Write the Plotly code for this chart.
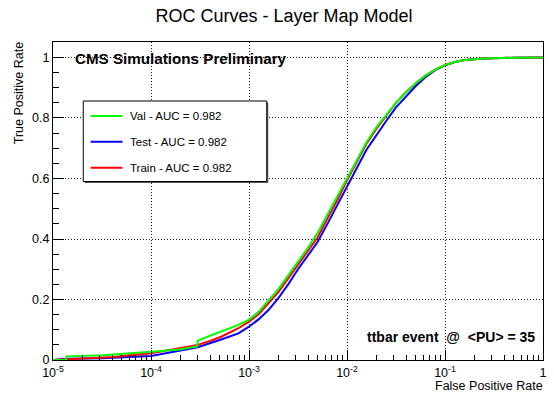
import plotly.graph_objects as go

# ---------------- data ----------------
fpr_val = [1e-5, 1.36e-5, 1.38e-5, 3.2e-5, 1e-4, 1.95e-4, 2.95e-4, 3.0e-4, 4.0e-4, 5.2e-4,
           7.8e-4, 1e-3, 1.26e-3, 1.58e-3, 2.0e-3, 2.51e-3, 3.16e-3, 3.98e-3, 5.01e-3,
           6.31e-3, 7.94e-3, 1e-2, 1.26e-2, 1.58e-2, 2.0e-2, 2.51e-2, 3.16e-2, 3.98e-2,
           5.01e-2, 6.31e-2, 7.94e-2, 0.1, 0.126, 0.158, 0.251, 0.501, 1.0]
tpr_val = [0.0, 0.0, 0.012, 0.016, 0.027, 0.035, 0.045, 0.064, 0.080, 0.094,
           0.116, 0.133, 0.160, 0.197, 0.235, 0.280, 0.325, 0.370, 0.420,
           0.480, 0.540, 0.605, 0.665, 0.720, 0.770, 0.810, 0.850, 0.885,
           0.915, 0.940, 0.960, 0.975, 0.985, 0.992, 0.997, 0.999, 1.0]

fpr_test = [1e-5, 1.38e-5, 3.2e-5, 1e-4, 3.0e-4, 4.0e-4, 5.2e-4, 7.8e-4, 1e-3, 1.26e-3,
            1.58e-3, 2.0e-3, 2.51e-3, 3.16e-3, 3.98e-3, 5.01e-3, 6.31e-3, 7.94e-3, 1e-2,
            1.26e-2, 1.58e-2, 2.0e-2, 2.51e-2, 3.16e-2, 3.98e-2, 5.01e-2, 6.31e-2,
            7.94e-2, 0.1, 0.126, 0.158, 0.251, 0.501, 1.0]
tpr_test = [0.0, 0.004, 0.006, 0.013, 0.042, 0.055, 0.068, 0.088, 0.110, 0.135,
            0.165, 0.205, 0.250, 0.300, 0.345, 0.390, 0.450, 0.510, 0.575,
            0.635, 0.695, 0.745, 0.790, 0.835, 0.870, 0.905, 0.935,
            0.958, 0.974, 0.985, 0.992, 0.997, 0.999, 1.0]

fpr_train = [1e-5, 1.6e-5, 4.1e-5, 1e-4, 3.0e-4, 4.0e-4, 5.2e-4, 7.8e-4, 1e-3, 1.26e-3,
             1.58e-3, 2.0e-3, 2.51e-3, 3.16e-3, 3.98e-3, 5.01e-3, 6.31e-3, 7.94e-3, 1e-2,
             1.26e-2, 1.58e-2, 2.0e-2, 2.51e-2, 3.16e-2, 3.98e-2, 5.01e-2, 6.31e-2,
             7.94e-2, 0.1, 0.126, 0.158, 0.251, 0.501, 1.0]
tpr_train = [0.0, 0.004, 0.010, 0.022, 0.050, 0.063, 0.077, 0.105, 0.127, 0.152,
             0.186, 0.225, 0.270, 0.315, 0.360, 0.405, 0.468, 0.528, 0.594,
             0.655, 0.715, 0.765, 0.808, 0.850, 0.884, 0.914, 0.940,
             0.960, 0.975, 0.985, 0.992, 0.997, 0.999, 1.0]

series_names = ["Val - AUC = 0.982", "Test - AUC = 0.982", "Train - AUC = 0.982"]
series_colors = ["#00ff00", "#0000ff", "#ff0000"]

x_tickvals = [1e-5, 1e-4, 1e-3, 1e-2, 1e-1, 1]
x_ticktext = ["10<sup>-5</sup>", "10<sup>-4</sup>", "10<sup>-3</sup>",
              "10<sup>-2</sup>", "10<sup>-1</sup>", "1"]
y_tickvals = [0, 0.2, 0.4, 0.6, 0.8, 1.0]
y_ticktext = ["0", "0.2", "0.4", "0.6", "0.8", "1"]

# ---------------- layout geometry ----------------
W, H = 554, 394
L, R, T, B = 53, 547, 42, 360
FONT = "Liberation Sans, Arial, Helvetica, sans-serif"


def px(xp):
    return (xp - L) / (R - L)


def py(yp):
    return (B - yp) / (B - T)


fig = go.Figure()
# draw order: Test (blue), Train (red), Val (green) on top
for fx, ty, name, col in [(fpr_test, tpr_test, series_names[1], series_colors[1]),
                          (fpr_train, tpr_train, series_names[2], series_colors[2]),
                          (fpr_val, tpr_val, series_names[0], series_colors[0])]:
    fig.add_trace(go.Scatter(x=fx, y=ty, mode="lines", name=name,
                             line=dict(color=col, width=2), showlegend=False))

minor_x = [m * 10.0 ** e for e in range(-5, 0) for m in range(2, 10)]
GRID = dict(showgrid=True, gridcolor="rgba(0,0,0,0.9)", griddash="1px,2px", gridwidth=1)

fig.update_xaxes(type="log", range=[-5, 0], tickmode="array", tickvals=x_tickvals,
                 ticktext=x_ticktext, ticks="inside", ticklen=10, tickcolor="black",
                 ticklabelstandoff=1,
                 showline=True, linecolor="black", linewidth=1, mirror=True,
                 zeroline=False, tickfont=dict(family=FONT, size=12.5, color="black"),
                 minor=dict(tickmode="array", tickvals=minor_x, ticks="inside", ticklen=5,
                            tickcolor="black", showgrid=False), **GRID)
fig.update_yaxes(range=[0, 1.0512], tickmode="array", tickvals=y_tickvals,
                 ticktext=y_ticktext, ticks="inside", ticklen=11, tickcolor="black",
                 showline=True, linecolor="black", linewidth=1, mirror=True,
                 zeroline=False, tickfont=dict(family=FONT, size=12.5, color="black"),
                 minor=dict(dtick=0.05, ticks="inside", ticklen=6, tickcolor="black",
                            showgrid=False), **GRID)

shapes = []
# legend shadow and box
bx0, bx1, by0, by1 = 83.5, 268.5, 101, 181.5
shapes.append(dict(type="rect", xref="paper", yref="paper", layer="above",
                   x0=px(bx0 + 1.5), x1=px(bx1 + 1.5), y0=py(by0 + 1.5), y1=py(by1 + 1.5),
                   fillcolor="#555555", line=dict(width=0)))
shapes.append(dict(type="rect", xref="paper", yref="paper", layer="above",
                   x0=px(bx0), x1=px(bx1), y0=py(by0), y1=py(by1),
                   fillcolor="white", line=dict(color="black", width=1)))
entry_y = [116, 141.7, 167.7]
annotations = []
for yy, name, col in zip(entry_y, series_names, series_colors):
    shapes.append(dict(type="line", xref="paper", yref="paper", layer="above",
                       x0=px(91), x1=px(123), y0=py(yy), y1=py(yy),
                       line=dict(color=col, width=2)))
    annotations.append(dict(text=name, xref="paper", yref="paper", x=px(129), y=py(yy),
                            xanchor="left", yanchor="middle", showarrow=False,
                            font=dict(family=FONT, size=11.5, color="black")))

annotations += [
    dict(text="<b>CMS Simulations Preliminary</b>", xref="paper", yref="paper",
         x=px(73), y=py(58), xanchor="left", yanchor="middle", showarrow=False,
         font=dict(family=FONT, size=15.2, color="black")),
    dict(text="<b>ttbar event\u00a0\u00a0@\u00a0\u00a0&lt;PU&gt; = 35</b>", xref="paper",
         yref="paper", x=px(540.5), y=py(336.5), xanchor="right", yanchor="middle",
         showarrow=False, font=dict(family=FONT, size=14, color="black")),
    dict(text="False Positive Rate", xref="paper", yref="paper", x=px(548), y=py(394),
         xanchor="right", yanchor="bottom", showarrow=False, borderpad=0,
         font=dict(family=FONT, size=12.5, color="black")),
    dict(text="True Positive Rate", xref="paper", yref="paper", x=px(19), y=py(40),
         xanchor="center", yanchor="top", textangle=-90, showarrow=False,
         font=dict(family=FONT, size=12.5, color="black")),
]

fig.update_layout(
    width=W, height=H,
    margin=dict(l=L, r=W - R, t=T, b=H - B, pad=0),
    paper_bgcolor="white", plot_bgcolor="white",
    title=dict(text="ROC Curves - Layer Map Model", x=284 / W, xanchor="center",
               y=1 - 16 / H, yanchor="middle", yref="container",
               font=dict(family=FONT, size=18, color="black")),
    shapes=shapes, annotations=annotations, showlegend=False,
)

fig.write_html("out.html")
